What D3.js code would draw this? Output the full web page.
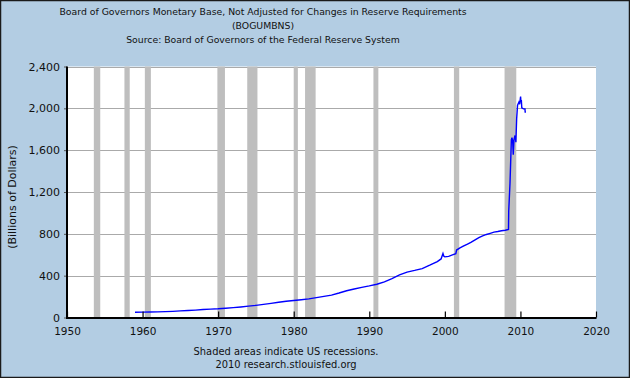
<!DOCTYPE html>
<html>
<head>
<meta charset="utf-8">
<script src="https://cdn.jsdelivr.net/npm/d3@7"></script>
<style>
  html, body { margin: 0; padding: 0; background: #b3cde3; }
  svg { display: block; }
  text { font-family: "DejaVu Sans", Verdana, sans-serif; fill: #111; }
</style>
</head>
<body>
<svg id="chart" width="630" height="378"></svg>
<script>
// ---- Data ----
const titleLines = [
  "Board of Governors Monetary Base, Not Adjusted for Changes in Reserve Requirements",
  "(BOGUMBNS)",
  "Source: Board of Governors of the Federal Reserve System"
];
const footerLines = ["Shaded areas indicate US recessions.", "2010 research.stlouisfed.org"];
const yAxisTitle = "(Billions of Dollars)";

const xTicks = [1950, 1960, 1970, 1980, 1990, 2000, 2010, 2020];
const yTicks = [0, 400, 800, 1200, 1600, 2000, 2400];

const recessionStart = [1953.55, 1957.6, 1960.3, 1969.9, 1973.85, 1980.0, 1981.5, 1990.55, 2001.2, 2007.9];
const recessionEnd   = [1954.4, 1958.3, 1961.1, 1970.9, 1975.2, 1980.55, 1982.9, 1991.2, 2001.9, 2009.45];

const years = [
  1959.0, 1960.0, 1961.0, 1962.0, 1963.0, 1964.0, 1965.0, 1966.0, 1967.0, 1968.0,
  1969.0, 1970.0, 1971.0, 1972.0, 1973.0, 1974.0, 1975.0, 1976.0, 1977.0, 1978.0,
  1979.0, 1980.0, 1981.0, 1982.0, 1983.0, 1984.0, 1985.0, 1986.0, 1987.0, 1988.0,
  1989.0, 1990.0, 1991.0, 1992.0, 1993.0, 1994.0, 1995.0, 1996.0, 1997.0, 1998.0,
  1999.0, 1999.5, 1999.75, 1999.85, 2000.0, 2000.5, 2001.0, 2001.45, 2001.55, 2002.0,
  2002.5, 2003.0, 2003.5, 2004.0, 2004.5, 2005.0, 2005.5, 2006.0, 2006.5, 2007.0,
  2007.5, 2008.0, 2008.42, 2008.45, 2008.62, 2008.8, 2008.88, 2008.97, 2009.05, 2009.15,
  2009.28, 2009.4, 2009.5, 2009.62, 2009.8, 2009.9, 2010.02, 2010.07, 2010.12, 2010.18,
  2010.4, 2010.6, 2010.63, 2010.73
];
const values = [
  50, 51, 52, 54, 56, 59, 63, 67, 71, 76,
  80, 83, 88, 94, 101, 109, 116, 125, 135, 146,
  156, 163, 170, 178, 190, 202, 214, 234, 256, 272,
  288, 302, 318, 340, 372, 408, 434, 450, 468, 500,
  535, 560, 612, 588, 580, 585, 598, 610, 645, 665,
  684, 702, 720, 742, 763, 780, 794, 805, 816, 822,
  830, 834, 842, 1013, 1285, 1699, 1720, 1690, 1556, 1700,
  1740, 1677, 1900, 2030, 2060, 2040, 2113, 2060, 2080, 2005,
  1995, 1995, 1965, 1965
];

// ---- Layout ----
const W = 630, H = 378;
const plot = { left: 67, right: 596, top: 66.5, bottom: 317.5 };

const svg = d3.select("#chart");

svg.append("rect").attr("x", 0.5).attr("y", 0.5).attr("width", W - 1).attr("height", H - 1)
  .attr("fill", "#b3cde3").attr("stroke", "#1a1a1a").attr("stroke-width", 1.5);

const x = d3.scaleLinear().domain([1950, 2020]).range([plot.left, plot.right]);
const y = d3.scaleLinear().domain([0, 2400]).range([plot.bottom, plot.top]);

// plot background
svg.append("rect").attr("x", plot.left).attr("y", plot.top)
  .attr("width", plot.right - plot.left).attr("height", plot.bottom - plot.top)
  .attr("fill", "#ffffff");

// gridlines
svg.append("g").selectAll("line").data(yTicks.filter(d => d > 0)).join("line")
  .attr("x1", plot.left).attr("x2", plot.right)
  .attr("y1", d => Math.round(y(d)) + 0.5).attr("y2", d => Math.round(y(d)) + 0.5)
  .attr("stroke", "#aaaaaa").attr("stroke-width", 1);

// recession bands
svg.append("g").selectAll("rect").data(recessionStart.map((s, i) => [s, recessionEnd[i]])).join("rect")
  .attr("x", d => x(d[0])).attr("width", d => x(d[1]) - x(d[0]))
  .attr("y", plot.top).attr("height", plot.bottom - plot.top)
  .attr("fill", "#bebebe");

// series line
const series = years.map((yr, i) => [yr, values[i]]);
svg.append("path").datum(series)
  .attr("fill", "none").attr("stroke", "#0000ff").attr("stroke-width", 1.4)
  .attr("stroke-linejoin", "miter")
  .attr("d", d3.line().x(d => x(d[0])).y(d => y(d[1])));

// Y axis
const yAxis = svg.append("g").attr("transform", `translate(${plot.left},0)`)
  .call(d3.axisLeft(y).tickValues(yTicks).tickFormat(d3.format(",")).tickSize(3).tickPadding(4));
yAxis.select(".domain").remove();
yAxis.selectAll(".tick line").attr("stroke", "#555");
yAxis.selectAll("text").style("font-size", "11px").attr("fill", "#111");
svg.append("line").attr("x1", plot.left).attr("x2", plot.left)
  .attr("y1", plot.top).attr("y2", plot.bottom + 1)
  .attr("stroke", "#000").attr("stroke-width", 2);

// X axis (ticks pointing inward)
const xAxis = svg.append("g").attr("transform", `translate(0,${plot.bottom})`)
  .call(d3.axisBottom(x).tickValues(xTicks).tickFormat(d3.format("d")).tickSize(-6).tickPadding(10));
xAxis.select(".domain").remove();
xAxis.selectAll(".tick line").attr("stroke", "#000").attr("stroke-width", 1.2);
xAxis.selectAll("text").style("font-size", "10.5px").attr("fill", "#111");
svg.append("line").attr("x1", plot.left - 1).attr("x2", plot.right + 0.5)
  .attr("y1", plot.bottom + 0.5).attr("y2", plot.bottom + 0.5)
  .attr("stroke", "#000").attr("stroke-width", 2);

// Y axis title
svg.append("text")
  .attr("transform", `translate(16,${(plot.top + plot.bottom) / 2 + 5}) rotate(-90)`)
  .attr("text-anchor", "middle").style("font-size", "11px")
  .text(yAxisTitle);

// Title
svg.append("g").selectAll("text").data(titleLines).join("text")
  .attr("x", 263).attr("y", (d, i) => 15 + i * 14)
  .attr("text-anchor", "middle").style("font-size", "9.3px")
  .text(d => d);

// Footer
svg.append("g").selectAll("text").data(footerLines).join("text")
  .attr("x", 286).attr("y", (d, i) => 355 + i * 13)
  .attr("text-anchor", "middle").style("font-size", "9.9px")
  .text(d => d);
</script>
</body>
</html>
